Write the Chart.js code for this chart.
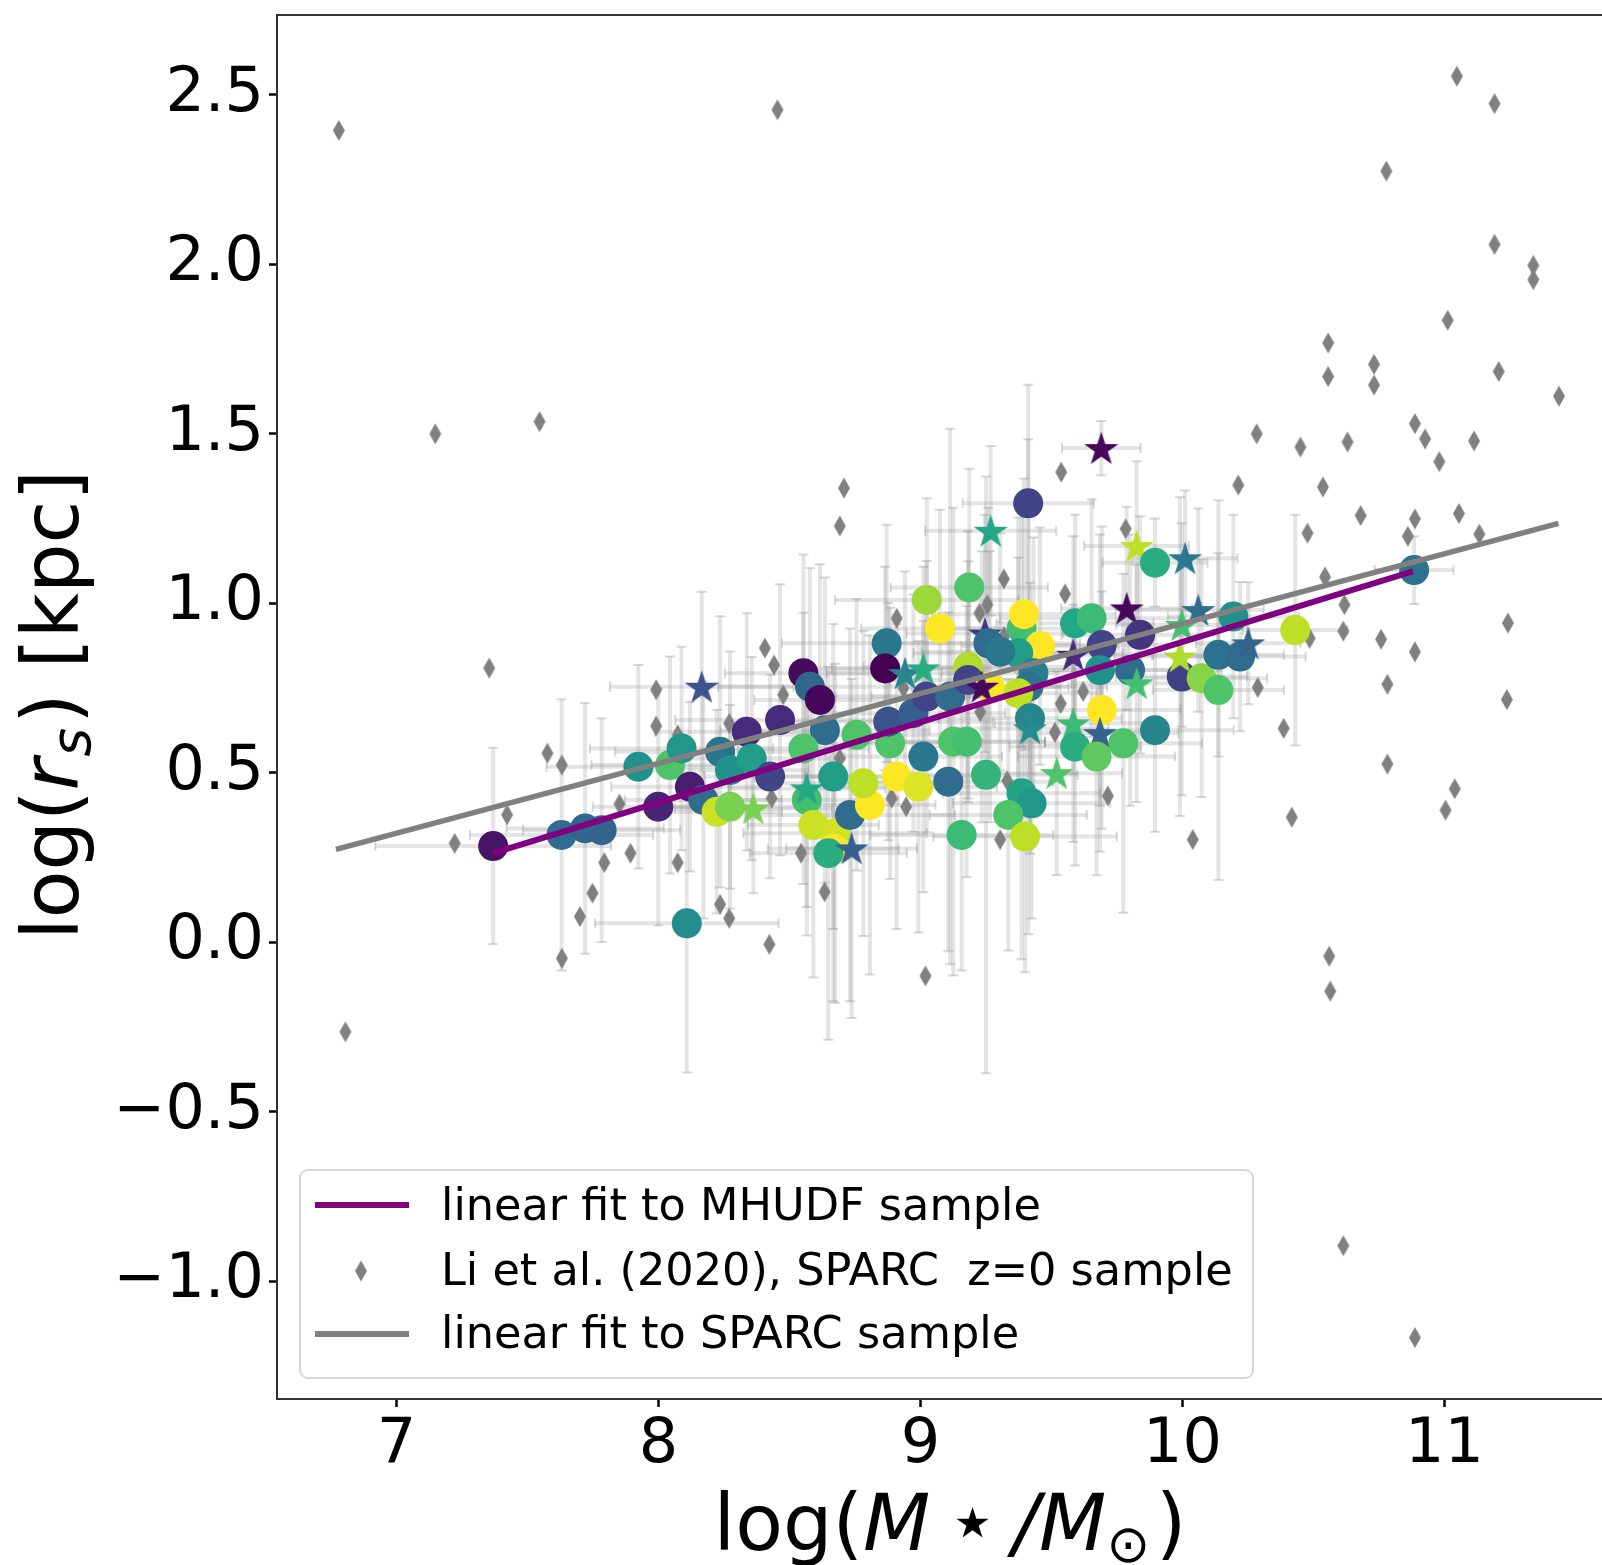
<!DOCTYPE html>
<html>
<head>
<meta charset="utf-8">
<script src="https://cdn.jsdelivr.net/npm/chart.js@4.4.0/dist/chart.umd.min.js"></script>
<style>
html, body { margin: 0; padding: 0; background: #fff; overflow: hidden; }
canvas { display: block; }
</style>
</head>
<body>
<canvas id="rsChart" width="1620" height="1565"></canvas>
<script>
// --- DATA ---
const xTicks = [7, 8, 9, 10, 11];
const yTicks = [-1.0, -0.5, 0.0, 0.5, 1.0, 1.5, 2.0, 2.5];

// MHUDF galaxies (log M*, log rs, colour value 0-1, star marker flag, errors)
const mhudfMass = [7.369, 7.630, 7.720, 7.783, 7.923, 7.999, 8.044, 8.088, 8.108, 8.120,
    8.165, 8.171, 8.222, 8.235, 8.273, 8.273, 8.337, 8.356, 8.362, 8.426,
    8.464, 8.553, 8.578, 8.616, 8.635, 8.553, 8.566, 8.566, 8.667, 8.591,
    8.674, 8.667, 8.648, 8.737, 8.731, 8.807, 8.782, 8.756, 8.884, 8.871,
    8.865, 8.877, 8.973, 9.024, 9.011, 8.909, 8.992, 9.106, 9.024, 9.074,
    8.941, 9.011, 9.113, 9.125, 9.176, 9.186, 9.268, 9.411, 9.690, 9.386,
    9.395, 9.456, 9.373, 9.246, 9.259, 9.304, 9.182, 9.182, 9.265, 9.234,
    9.431, 9.412, 9.373, 9.418, 9.418, 9.590, 9.653, 9.692, 9.583, 9.787,
    9.838, 9.685, 9.800, 9.825, 9.825, 9.895, 10.010, 10.060, 10.194, 9.997,
    9.997, 9.990, 10.073, 10.137, 10.137, 10.220, 10.251, 10.430, 10.884, 9.692,
    9.583, 9.685, 9.895, 9.590, 9.672, 9.774, 9.250, 9.520, 9.386, 9.424,
    9.335, 9.157, 9.399];
const mhudfRs = [0.283, 0.316, 0.335, 0.330, 0.517, 0.399, 0.522, 0.571, 0.055, 0.458,
    0.753, 0.419, 0.384, 0.561, 0.507, 0.399, 0.620, 0.541, 0.394, 0.488,
    0.655, 0.793, 0.753, 0.714, 0.625, 0.571, 0.419, 0.453, 0.488, 0.345,
    0.321, 0.275, 0.262, 0.276, 0.375, 0.404, 0.468, 0.611, 0.586, 0.881,
    0.807, 0.650, 0.675, 0.724, 0.547, 0.488, 0.458, 0.473, 1.009, 0.925,
    0.793, 0.807, 0.724, 0.591, 0.591, 1.046, 1.213, 1.294, 1.457, 0.925,
    0.967, 0.873, 0.852, 0.910, 0.881, 0.856, 0.812, 0.773, 0.753, 0.753,
    0.793, 0.753, 0.734, 0.660, 0.630, 0.940, 0.955, 0.876, 0.847, 0.984,
    0.906, 0.802, 0.802, 0.763, 1.168, 1.119, 1.132, 0.979, 0.960, 0.935,
    0.783, 0.842, 0.778, 0.743, 0.847, 0.842, 0.881, 0.920, 1.097, 0.684,
    0.645, 0.616, 0.625, 0.576, 0.547, 0.586, 0.493, 0.498, 0.439, 0.409,
    0.375, 0.316, 0.311];
const mhudfColor = [0.05, 0.35, 0.33, 0.32, 0.50, 0.10, 0.72, 0.52, 0.48, 0.08,
    0.25, 0.35, 0.92, 0.38, 0.50, 0.80, 0.12, 0.55, 0.80, 0.20,
    0.12, 0.03, 0.33, 0.02, 0.35, 0.72, 0.70, 0.60, 0.55, 0.92,
    0.93, 1.00, 0.62, 0.30, 0.35, 1.00, 0.90, 0.72, 0.72, 0.40,
    0.00, 0.25, 0.30, 0.20, 0.40, 1.00, 0.95, 0.35, 0.85, 1.00,
    0.45, 0.62, 0.35, 0.72, 0.70, 0.72, 0.60, 0.20, 0.02, 0.70,
    1.00, 1.00, 0.55, 0.15, 0.35, 0.40, 0.88, 0.20, 1.00, 0.02,
    0.42, 0.38, 0.90, 0.45, 0.48, 0.60, 0.68, 0.20, 0.12, 0.02,
    0.15, 0.50, 0.35, 0.70, 0.90, 0.62, 0.40, 0.35, 0.50, 0.70,
    0.18, 0.88, 0.82, 0.72, 0.38, 0.35, 0.32, 0.90, 0.38, 1.00,
    0.68, 0.32, 0.45, 0.62, 0.75, 0.72, 0.65, 0.72, 0.58, 0.52,
    0.72, 0.68, 0.90];
const mhudfStar = [0, 0, 0, 0, 0, 0, 0, 0, 0, 0,
    1, 0, 0, 0, 0, 0, 0, 0, 1, 0,
    0, 0, 0, 0, 0, 0, 0, 1, 0, 0,
    0, 0, 0, 1, 0, 0, 0, 0, 0, 0,
    0, 0, 0, 0, 0, 0, 0, 0, 0, 0,
    1, 1, 0, 0, 0, 0, 1, 0, 1, 0,
    0, 0, 0, 1, 0, 0, 0, 0, 0, 1,
    0, 0, 0, 0, 1, 0, 0, 0, 1, 1,
    0, 0, 0, 1, 1, 0, 1, 1, 0, 1,
    0, 1, 0, 0, 0, 0, 1, 0, 0, 0,
    1, 1, 0, 0, 0, 0, 0, 1, 0, 0,
    0, 0, 0];
const mhudfMassErr = [0.45, 0.35, 0.30, 0.30, 0.35, 0.25, 0.30, 0.35, 0.35, 0.30,
    0.35, 0.30, 0.25, 0.40, 0.30, 0.30, 0.35, 0.30, 0.30, 0.25,
    0.40, 0.30, 0.35, 0.25, 0.40, 0.25, 0.35, 0.30, 0.30, 0.25,
    0.35, 0.25, 0.30, 0.25, 0.40, 0.25, 0.35, 0.40, 0.35, 0.40,
    0.30, 0.40, 0.35, 0.35, 0.30, 0.35, 0.30, 0.40, 0.35, 0.30,
    0.30, 0.35, 0.30, 0.35, 0.30, 0.30, 0.25, 0.25, 0.15, 0.30,
    0.35, 0.30, 0.40, 0.30, 0.35, 0.30, 0.40, 0.30, 0.30, 0.30,
    0.35, 0.30, 0.30, 0.35, 0.30, 0.30, 0.35, 0.30, 0.30, 0.25,
    0.30, 0.30, 0.35, 0.25, 0.20, 0.20, 0.20, 0.25, 0.25, 0.25,
    0.25, 0.25, 0.25, 0.25, 0.25, 0.25, 0.20, 0.20, 0.15, 0.30,
    0.30, 0.30, 0.30, 0.25, 0.30, 0.30, 0.35, 0.25, 0.30, 0.30,
    0.30, 0.35, 0.35];
const mhudfRsErr = [0.29, 0.40, 0.37, 0.33, 0.30, 0.35, 0.32, 0.30, 0.44, 0.25,
    0.28, 0.35, 0.30, 0.40, 0.35, 0.30, 0.35, 0.30, 0.25, 0.30,
    0.40, 0.35, 0.35, 0.40, 0.45, 0.40, 0.40, 0.35, 0.45, 0.45,
    0.50, 0.45, 0.55, 0.50, 0.55, 0.50, 0.45, 0.40, 0.40, 0.35,
    0.30, 0.35, 0.35, 0.40, 0.40, 0.45, 0.43, 0.50, 0.30, 0.35,
    0.30, 0.30, 0.79, 0.69, 0.40, 0.35, 0.25, 0.35, 0.08, 0.35,
    0.40, 0.35, 0.40, 0.35, 0.40, 0.35, 0.40, 0.35, 0.40, 0.40,
    0.40, 0.73, 0.40, 0.40, 0.35, 0.32, 0.35, 0.35, 0.35, 0.30,
    0.35, 0.40, 0.40, 0.35, 0.25, 0.13, 0.20, 0.30, 0.30, 0.30,
    0.35, 0.47, 0.35, 0.56, 0.30, 0.22, 0.18, 0.34, 0.10, 0.35,
    0.35, 0.35, 0.30, 0.35, 0.35, 0.50, 0.88, 0.30, 0.49, 0.34,
    0.40, 0.40, 0.40];

// Li et al. (2020) SPARC z=0 sample
const sparcMass = [6.780, 8.454, 6.805, 7.148, 7.546, 7.354, 11.047, 11.191, 10.778, 11.191,
    11.339, 11.339, 11.012, 10.556, 10.731, 10.556, 10.731, 11.207, 11.437, 10.887,
    10.926, 11.113, 10.980, 10.283, 10.450, 10.630, 10.213, 10.536, 11.055, 10.887,
    10.860, 10.680, 10.477, 11.133, 10.544, 10.618, 11.242, 10.485, 10.614, 10.758,
    10.887, 10.782, 11.238, 10.386, 10.782, 11.039, 11.004, 10.417, 10.039, 10.287,
    10.560, 10.564, 10.614, 10.887, 9.537, 9.783, 9.318, 9.552, 9.535, 9.621,
    9.513, 9.715, 9.331, 9.304, 9.255, 9.225, 9.319, 9.228, 8.708, 8.692,
    8.909, 8.935, 8.890, 8.945, 8.432, 9.019, 7.576, 7.631, 7.422, 7.222,
    7.748, 7.700, 7.631, 7.991, 7.991, 8.073, 7.851, 7.893, 7.793, 8.073,
    8.235, 8.270, 8.423, 8.406, 8.441, 8.476, 8.270, 8.692, 8.544, 8.634];
const sparcRs = [2.394, 2.455, -0.265, 1.499, 1.535, 0.808, 2.554, 2.473, 2.274, 2.058,
    1.996, 1.954, 1.834, 1.767, 1.704, 1.668, 1.643, 1.683, 1.610, 1.529,
    1.484, 1.478, 1.417, 1.499, 1.460, 1.475, 1.348, 1.342, 1.264, 1.248,
    1.197, 1.258, 1.206, 1.203, 1.077, 0.995, 0.941, 0.896, 0.917, 0.893,
    0.856, 0.760, 0.715, 0.630, 0.525, 0.452, 0.389, 0.368, 0.302, 0.751,
    -0.042, -0.145, -0.896, -1.167, 1.386, 1.219, 1.071, 1.027, 0.703, 0.739,
    0.618, 0.431, 0.476, 0.302, 0.995, 0.970, 0.901, 0.679, 1.339, 1.227,
    0.955, 0.749, 0.424, 0.399, 0.424, -0.100, 0.557, 0.522, 0.375, 0.291,
    0.144, 0.075, -0.048, 0.744, 0.637, 0.611, 0.407, 0.262, 0.234, 0.234,
    0.111, 0.070, -0.007, 0.867, 0.817, 0.729, 0.645, 0.542, 0.262, 0.148];

// linear fits (end points)
const fitMhudfX = [7.369, 10.879];
const fitMhudfY = [0.262, 1.093];
const fitSparcX = [6.769, 11.435];
const fitSparcY = [0.273, 1.235];

const legendLabels = [
    'linear fit to MHUDF sample',
    'Li et al. (2020), SPARC  z=0 sample',
    'linear fit to SPARC sample'
];

// --- STYLE HELPERS ---
const FONT = "'DejaVu Sans', 'Liberation Sans', sans-serif";
const VIRIDIS = ['#440154', '#482475', '#414487', '#355f8d', '#2a788e', '#21918c',
                 '#22a884', '#44bf70', '#7ad151', '#bddf26', '#fde725'];

function hexToRgb(h) {
    return [parseInt(h.slice(1, 3), 16), parseInt(h.slice(3, 5), 16), parseInt(h.slice(5, 7), 16)];
}

function viridis(t) {
    t = Math.min(1, Math.max(0, t));
    const pos = t * (VIRIDIS.length - 1);
    const i = Math.min(Math.floor(pos), VIRIDIS.length - 2);
    const f = pos - i;
    const a = hexToRgb(VIRIDIS[i]), b = hexToRgb(VIRIDIS[i + 1]);
    const c = a.map((v, k) => Math.round(v + (b[k] - v) * f));
    return `rgb(${c[0]},${c[1]},${c[2]})`;
}

// filled five-point star, like matplotlib's '*'
const starCache = {};
function starImage(color) {
    if (starCache[color]) return starCache[color];
    const R = 18, r = R * 0.382, size = 40;
    const cv = document.createElement('canvas');
    cv.width = size; cv.height = size;
    const c = cv.getContext('2d');
    c.translate(size / 2, size / 2 + 1.5);
    c.beginPath();
    for (let k = 0; k < 10; k++) {
        const rad = k % 2 === 0 ? R : r;
        const ang = -Math.PI / 2 + k * Math.PI / 5;
        const px = rad * Math.cos(ang), py = rad * Math.sin(ang);
        if (k === 0) c.moveTo(px, py); else c.lineTo(px, py);
    }
    c.closePath();
    c.fillStyle = color;
    c.fill();
    starCache[color] = cv;
    return cv;
}

// thin diamond, like matplotlib's 'd'
function diamondImage(w, h, color) {
    const cv = document.createElement('canvas');
    cv.width = w + 2; cv.height = h + 2;
    const c = cv.getContext('2d');
    c.beginPath();
    c.moveTo(cv.width / 2, 1);
    c.lineTo(cv.width - 1, cv.height / 2);
    c.lineTo(cv.width / 2, cv.height - 1);
    c.lineTo(1, cv.height / 2);
    c.closePath();
    c.fillStyle = color;
    c.fill();
    return cv;
}
const diamond = diamondImage(12, 21, '#808080');

// --- PLUGINS ---
// pin the axes so that x=7 sits at 396.5px (262 px per dex) and y=0 at 942px (339 px per dex)
const axisGeometry = {
    id: 'axisGeometry',
    afterLayout(chart) {
        const { chartArea: a, scales: { x, y } } = chart;
        x.min = 7 - (396.5 - a.left) / 262;
        x.max = x.min + (a.right - a.left) / 262;
        x.configure();
        y.max = (942 - a.top) / 339;
        y.min = y.max - (a.bottom - a.top) / 339;
        y.configure();
    }
};

const errorBars = {
    id: 'errorBars',
    beforeDatasetsDraw(chart) {
        const { ctx, chartArea, scales: { x, y } } = chart;
        ctx.save();
        ctx.beginPath();
        ctx.rect(chartArea.left, chartArea.top, chartArea.right - chartArea.left, chartArea.bottom - chartArea.top);
        ctx.clip();
        for (let i = 0; i < mhudfMass.length; i++) {
            const px = x.getPixelForValue(mhudfMass[i]);
            const py = y.getPixelForValue(mhudfRs[i]);
            const x0 = x.getPixelForValue(mhudfMass[i] - mhudfMassErr[i]);
            const x1 = x.getPixelForValue(mhudfMass[i] + mhudfMassErr[i]);
            const y0 = y.getPixelForValue(mhudfRs[i] - mhudfRsErr[i]);
            const y1 = y.getPixelForValue(mhudfRs[i] + mhudfRsErr[i]);
            ctx.strokeStyle = 'rgba(150,150,150,0.26)';
            ctx.lineWidth = 4;
            ctx.beginPath();
            ctx.moveTo(x0, py); ctx.lineTo(x1, py);
            ctx.moveTo(px, y0); ctx.lineTo(px, y1);
            ctx.stroke();
            ctx.strokeStyle = 'rgba(130,130,130,0.3)';
            ctx.lineWidth = 2;
            ctx.beginPath();
            ctx.moveTo(x0, py - 5); ctx.lineTo(x0, py + 5);
            ctx.moveTo(x1, py - 5); ctx.lineTo(x1, py + 5);
            ctx.moveTo(px - 5, y0); ctx.lineTo(px + 5, y0);
            ctx.moveTo(px - 5, y1); ctx.lineTo(px + 5, y1);
            ctx.stroke();
        }
        ctx.restore();
    }
};

function drawPieces(ctx, pieces, startX, baseY) {
    let cx = startX;
    pieces.forEach(p => {
        ctx.font = p.font;
        ctx.fillText(p.text, cx, baseY + (p.dy || 0));
        cx += ctx.measureText(p.text).width + (p.gap || 0);
    });
}
function piecesWidth(ctx, pieces) {
    let w = 0;
    pieces.forEach(p => { ctx.font = p.font; w += ctx.measureText(p.text).width + (p.gap || 0); });
    return w;
}

const decorations = {
    id: 'decorations',
    afterDraw(chart) {
        const { ctx, chartArea } = chart;
        ctx.save();
        // top spine
        ctx.strokeStyle = '#333';
        ctx.lineWidth = 2;
        ctx.beginPath();
        ctx.moveTo(chartArea.left, chartArea.top);
        ctx.lineTo(chartArea.right, chartArea.top);
        ctx.stroke();

        // legend
        ctx.beginPath();
        ctx.roundRect(300, 1170, 953, 208, 8);
        ctx.fillStyle = 'rgba(255,255,255,0.8)';
        ctx.fill();
        ctx.strokeStyle = '#d6d6d6';
        ctx.lineWidth = 2;
        ctx.stroke();

        ctx.lineWidth = 6;
        ctx.strokeStyle = 'purple';
        ctx.beginPath(); ctx.moveTo(315, 1205); ctx.lineTo(409, 1205); ctx.stroke();
        ctx.drawImage(diamond, 361 - diamond.width / 2, 1271 - diamond.height / 2);
        ctx.strokeStyle = 'gray';
        ctx.beginPath(); ctx.moveTo(315, 1334); ctx.lineTo(409, 1334); ctx.stroke();

        ctx.fillStyle = '#000';
        ctx.font = `44.6px ${FONT}`;
        ctx.textBaseline = 'alphabetic';
        ctx.textAlign = 'left';
        ctx.fillText(legendLabels[0], 441, 1220);
        ctx.fillText(legendLabels[1], 441, 1285);
        ctx.fillText(legendLabels[2], 441, 1348);

        // x axis title: log(M ⋆ /M⊙)
        const big = `78px ${FONT}`, bigIt = `italic 78px ${FONT}`;
        const xPieces = [
            { text: 'log(', font: big },
            { text: 'M', font: bigIt, gap: 16 },
            { text: '\u22C6', font: `84px ${FONT}`, gap: 14 },
            { text: '/M', font: bigIt },
            { text: '\u2299', font: `52px ${FONT}`, dy: 12, gap: 6 },
            { text: ')', font: big }
        ];
        const xw = piecesWidth(ctx, xPieces);
        drawPieces(ctx, xPieces, 950 - xw / 2, 1550);

        // y axis title: log(r_s) [kpc]
        ctx.translate(78, 705);
        ctx.rotate(-Math.PI / 2);
        const yPieces = [
            { text: 'log(', font: big },
            { text: 'r', font: bigIt, gap: 2 },
            { text: 's', font: `italic 55px ${FONT}`, dy: 12, gap: 4 },
            { text: ') [kpc]', font: big }
        ];
        const yw = piecesWidth(ctx, yPieces);
        drawPieces(ctx, yPieces, -yw / 2, 0);
        ctx.restore();
    }
};

// --- CHART ---
const ctx = document.getElementById('rsChart').getContext('2d');

new Chart(ctx, {
    type: 'scatter',
    data: {
        datasets: [
            {
                type: 'line',
                label: legendLabels[0],
                data: fitMhudfX.map((v, i) => ({ x: v, y: fitMhudfY[i] })),
                borderColor: 'purple',
                borderWidth: 6,
                pointRadius: 0,
                showLine: true,
                fill: false,
                order: 0
            },
            {
                type: 'line',
                label: legendLabels[2],
                data: fitSparcX.map((v, i) => ({ x: v, y: fitSparcY[i] })),
                borderColor: 'gray',
                borderWidth: 5.5,
                pointRadius: 0,
                showLine: true,
                fill: false,
                order: 0
            },
            {
                label: 'MHUDF',
                data: mhudfMass.map((v, i) => ({ x: v, y: mhudfRs[i] })),
                pointStyle: c => mhudfStar[c.dataIndex] ? starImage(viridis(mhudfColor[c.dataIndex])) : 'circle',
                pointRadius: 15,
                pointBackgroundColor: c => viridis(mhudfColor[c.dataIndex]),
                pointBorderWidth: 0,
                borderWidth: 0,
                order: 1
            },
            {
                label: legendLabels[1],
                data: sparcMass.map((v, i) => ({ x: v, y: sparcRs[i] })),
                pointStyle: diamond,
                pointRadius: 10,
                order: 2
            }
        ]
    },
    options: {
        responsive: false,
        animation: false,
        devicePixelRatio: 1,
        layout: { padding: { top: 13, left: 0, right: 0, bottom: 0 } },
        plugins: {
            legend: { display: false },
            tooltip: { enabled: false }
        },
        scales: {
            x: {
                type: 'linear',
                min: 6.544,
                max: 11.62,
                afterBuildTicks: s => { s.ticks = xTicks.map(v => ({ value: v })); },
                afterFit: s => { s.height = 166; s.paddingLeft = 0; s.paddingRight = 0; },
                ticks: {
                    font: { family: FONT, size: 62 },
                    color: '#000',
                    padding: 2,
                    maxRotation: 0,
                    callback: v => String(v)
                },
                grid: { drawOnChartArea: false, drawTicks: true, tickLength: 8, tickWidth: 2.5, tickColor: '#000' },
                border: { display: true, color: '#333', width: 2 }
            },
            y: {
                type: 'linear',
                min: -1.347,
                max: 2.741,
                afterBuildTicks: s => { s.ticks = yTicks.map(v => ({ value: v })); },
                afterFit: s => { s.width = 277; s.paddingTop = 0; s.paddingBottom = 0; },
                ticks: {
                    font: { family: FONT, size: 62 },
                    color: '#000',
                    padding: 5,
                    callback: v => (v < 0 ? '\u2212' + Math.abs(v).toFixed(1) : v.toFixed(1))
                },
                grid: { drawOnChartArea: false, drawTicks: true, tickLength: 8, tickWidth: 2.5, tickColor: '#000' },
                border: { display: true, color: '#333', width: 2 }
            }
        }
    },
    plugins: [axisGeometry, errorBars, decorations]
});
</script>
</body>
</html>
